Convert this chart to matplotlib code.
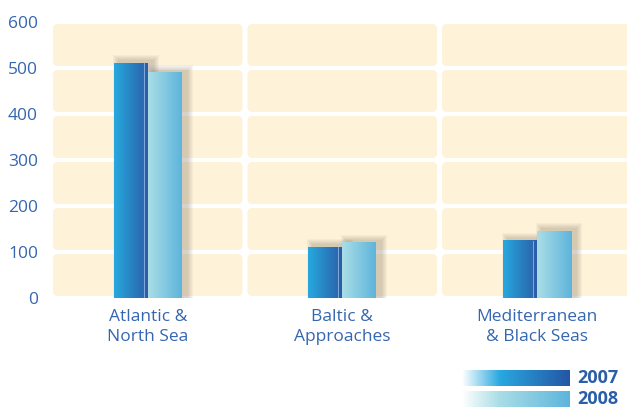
import numpy as np
import matplotlib
matplotlib.use("Agg")
import matplotlib.pyplot as plt
from matplotlib.patches import FancyBboxPatch, Rectangle
from matplotlib.colors import LinearSegmentedColormap

categories = ["Atlantic &\nNorth Sea", "Baltic &\nApproaches", "Mediterranean\n& Black Seas"]
series_names = ["2007", "2008"]
values_2007 = [510, 110, 125]
values_2008 = [490, 120, 145]
yticks = [0, 100, 200, 300, 400, 500, 600]

W, H, DPI = 627, 407, 100
fig = plt.figure(figsize=(W / DPI, H / DPI), dpi=DPI)
fig.patch.set_facecolor("white")

ax_left_px, ax_right_px = 50.5, 634.0
ax_bottom_px, ax_top_px = 298.0, 22.0
ax = fig.add_axes([ax_left_px / W, (H - ax_bottom_px) / H,
                   (ax_right_px - ax_left_px) / W, (ax_bottom_px - ax_top_px) / H])
ax.set_facecolor("white")
ncat = len(categories)
xmax, ymax = float(ncat), 600.0
ax.set_xlim(0, xmax)
ax.set_ylim(0, ymax)

px_x = xmax / (ax_right_px - ax_left_px)   # data units per pixel (x)
px_y = ymax / (ax_bottom_px - ax_top_px)   # data units per pixel (y)

tile_col = "#fef2d9"
gap_x, gap_y = 2.5 * px_x, 2.0 * px_y
for i in range(ncat):
    for k in range(len(yticks) - 1):
        x0, x1 = i + gap_x, i + 1 - gap_x
        y0, y1 = yticks[k] + gap_y, yticks[k + 1] - gap_y
        p = FancyBboxPatch((x0, y0), x1 - x0, y1 - y0,
                           boxstyle=f"round,pad=0,rounding_size={5 * px_x}",
                           mutation_aspect=px_y / px_x,
                           facecolor=tile_col, edgecolor="none", zorder=0)
        ax.add_patch(p)

cmap07 = LinearSegmentedColormap.from_list("c07", ["#27a9df", "#2a5ea8"])
cmap08 = LinearSegmentedColormap.from_list("c08", ["#abdee6", "#5db4dc"])
grad = np.linspace(0, 1, 256).reshape(1, -1)

bw = 34 * px_x
centers = np.arange(ncat) + 0.5

def shadow(x0, w, h):
    for s in range(1, 7):
        r = Rectangle((x0 + 5 * px_x - s * px_x, 0), w + 2 * s * px_x, h + 2 * px_y + s * px_y,
                      facecolor="#6e6250", edgecolor="none", alpha=0.05, zorder=1)
        ax.add_patch(r)

for c, v7, v8 in zip(centers, values_2007, values_2008):
    x7 = c - bw
    x8 = c
    shadow(x8, bw, v8)
    shadow(x7, bw, v7)
    ax.imshow(grad, cmap=cmap07, extent=(x7, x7 + bw, 0, v7), aspect="auto",
              interpolation="bilinear", zorder=2)
    ax.add_patch(Rectangle((x7 + bw - 4 * px_x, 0), 4 * px_x, v7,
                           facecolor="#2a5ea8", edgecolor="none", zorder=3))
    ax.plot([x7 + bw - 4 * px_x] * 2, [0, v7], color="#7fa6d6", lw=0.8, zorder=4)
    ax.imshow(grad, cmap=cmap08, extent=(x8, x8 + bw, 0, v8), aspect="auto",
              interpolation="bilinear", zorder=2)

ax.set_xlim(0, xmax)
ax.set_ylim(0, ymax)
for s in ax.spines.values():
    s.set_visible(False)
lab_col = "#3566b0"
FONT = "Open Sans"
ax.set_yticks(yticks)
ax.set_yticklabels([str(t) for t in yticks], color=lab_col, fontsize=12.5, family=FONT)
ax.tick_params(axis="y", length=0, pad=9)
ax.set_xticks(centers)
ax.set_xticklabels(categories, color=lab_col, fontsize=12.5, family=FONT, linespacing=1.3)
ax.tick_params(axis="x", length=0, pad=8)

# legend
leg_cmaps = [
    LinearSegmentedColormap.from_list("l07", [(0, "#ffffff"), (0.35, "#29a8e0"), (1, "#2456a4")]),
    LinearSegmentedColormap.from_list("l08", [(0, "#ffffff"), (0.35, "#a9dde6"), (1, "#5db5dc")]),
]
leg_tops = [370, 391]
leg_baselines = [383, 404.5]
for name, cm, top, base in zip(series_names, leg_cmaps, leg_tops, leg_baselines):
    lx0, lx1, lh = 462, 570, 16
    lax = fig.add_axes([lx0 / W, (H - top - lh) / H, (lx1 - lx0) / W, lh / H])
    lax.imshow(grad, cmap=cm, aspect="auto", interpolation="bilinear")
    lax.axis("off")
    fig.text(577 / W, (H - base) / H, name, color="#2a5ea8", fontsize=13,
             fontweight="bold", family=FONT, va="baseline", ha="left")

fig.savefig("out.png", dpi=DPI, facecolor="white")
